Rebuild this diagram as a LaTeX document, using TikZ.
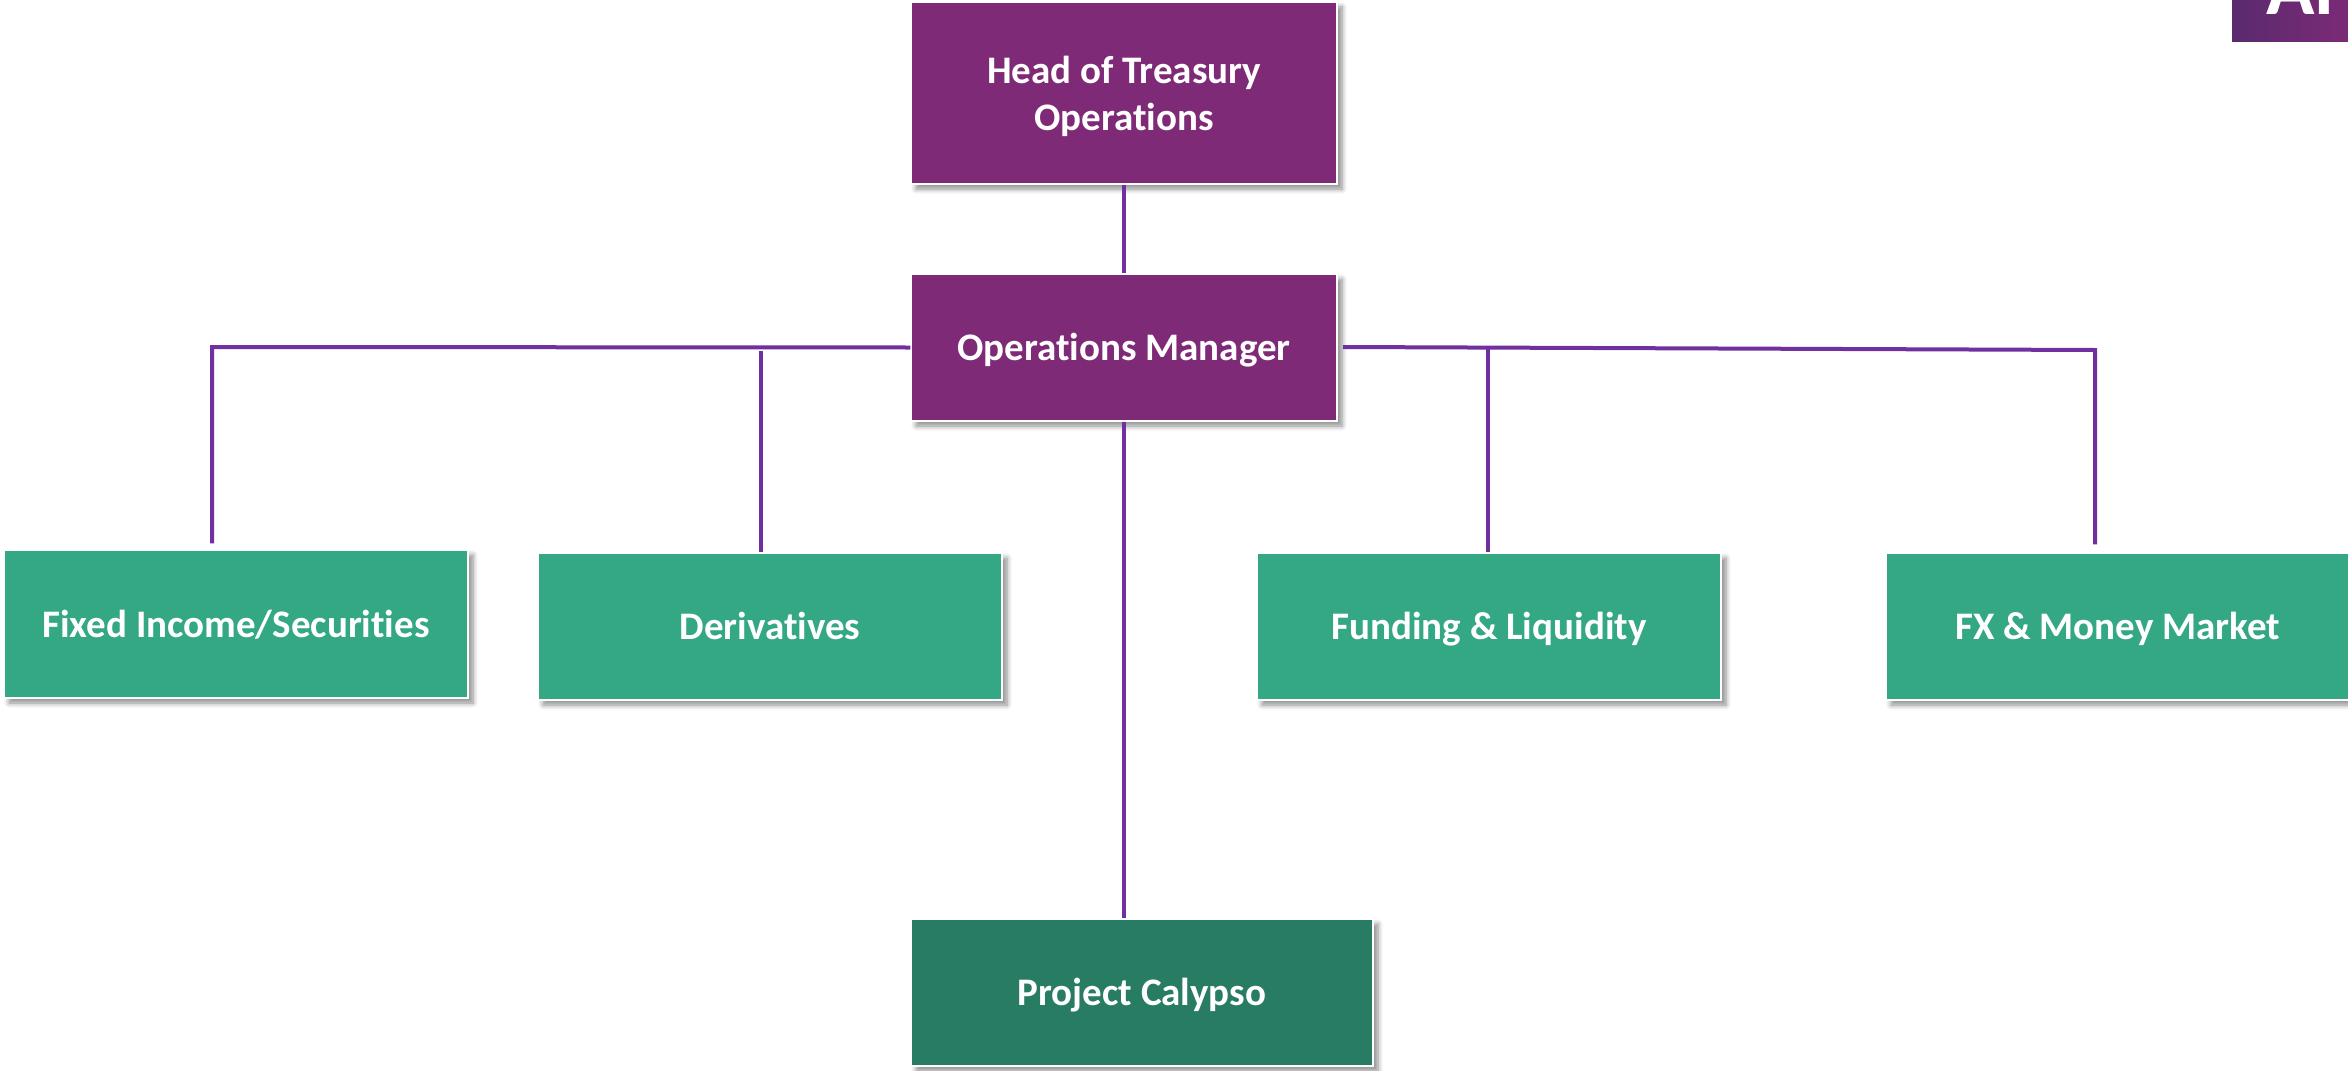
\documentclass[tikz,border=0pt]{standalone}
\usepackage{fontspec}
\setmainfont{Carlito}[Ligatures=NoCommon]
\usetikzlibrary{shadows.blur}
\definecolor{boxpurple}{HTML}{7F2A77}
\definecolor{linepurple}{HTML}{7030A0}
\definecolor{boxgreen}{HTML}{34A784}
\definecolor{darkgreen}{HTML}{287C63}
\definecolor{tabdark}{HTML}{5A2A6E}
\begin{document}
\begin{tikzpicture}[x=0.5pt,y=-0.5pt,
  orgbox/.style={rectangle, draw=white, line width=0.6pt, text=white,
    font=\bfseries\fontsize{19.5}{23.5}\selectfont, inner sep=0pt,
    text depth=0pt,
    blur shadow={shadow xshift=2.5pt, shadow yshift=-2.5pt, shadow blur radius=2.5pt,
      shadow blur steps=6, shadow opacity=45}},
  oneline/.style={text height=13.2pt},
  purplebox/.style={orgbox, fill=boxpurple, minimum width=213pt},
  greenbox/.style={orgbox, oneline, fill=boxgreen, minimum width=232pt, minimum height=73.5pt},
  conn/.style={draw=linepurple, line width=2pt}]
\useasboundingbox (0,0) rectangle (2348,1070);
% partial tab top right
\shade[left color=tabdark, right color=boxpurple] (2232,-5) rectangle (2360,42);
\node[anchor=base west, text=white, font=\bfseries\fontsize{40}{40}\selectfont, inner sep=0pt] (tab) at (2266,15) {Al};
% nodes
\node[purplebox, align=center, minimum height=91pt] (head) at (1124,93) {Head of Treasury\\Operations};
\node[purplebox, oneline, minimum height=73.5pt] (ops) at (1124,347.5) {Operations Manager};
\node[greenbox, minimum height=74pt] (fi) at (236,624) {Fixed Income/Securities};
\node[greenbox] (der) at (770,626.5) {Derivatives};
\node[greenbox] (fund) at (1489,626.5) {Funding \& Liquidity};
\node[greenbox] (fx) at (2118,626.5) {FX \& Money Market};
\node[orgbox, oneline, fill=darkgreen, minimum width=231pt, minimum height=73.5pt] (cal) at (1142,992.5) {Project Calypso};
% junctions
\coordinate (fij) at (212,347);
\coordinate (derj) at (761,351);
\coordinate (rstart) at (1343,347);
\coordinate (fxj) at (2095,350);
\coordinate (fundj) at (1488,349);
% connectors
\draw[conn] (head.south) -- (ops.north);
\draw[conn] (ops.south) -- (ops.south |- cal.north);
\draw[conn] (ops.west) -- (fij) -- ([yshift=3pt]fij |- fi.north);
\draw[conn] (derj) -- (derj |- der.north);
\draw[conn] (rstart) -- (fxj) -- ([yshift=4pt]fxj |- fx.north);
\draw[conn] (fundj) -- (fundj |- fund.north);
\end{tikzpicture}
\end{document}
